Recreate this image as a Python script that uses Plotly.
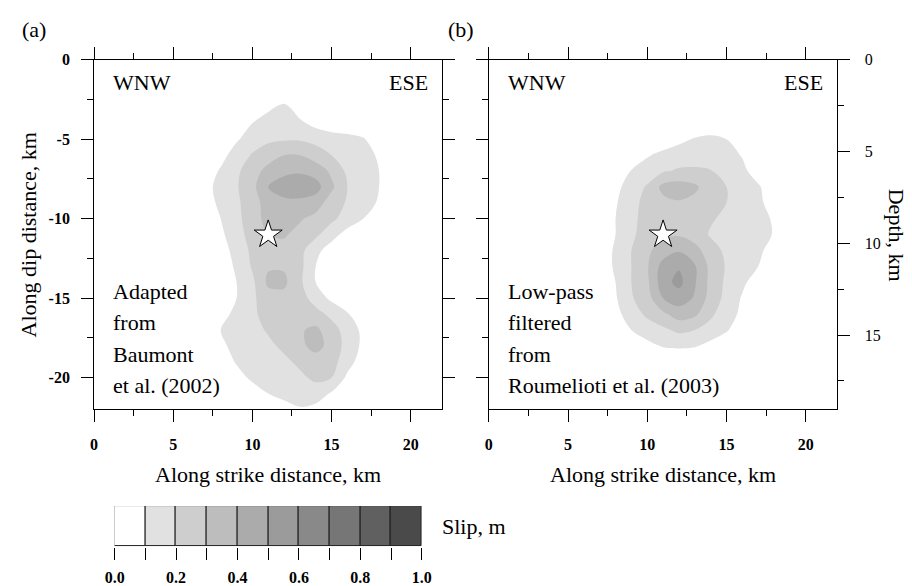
import plotly.graph_objects as go

# ---------------- data ----------------
STRIKE_KM = [6, 7, 8, 9, 10, 11, 12, 13, 14, 15, 16, 17, 18, 19]

DIP_A_KM = [-2, -3, -4, -5, -6, -7, -8, -9, -10, -11, -12, -13, -14, -15,
            -16, -17, -18, -19, -20, -21, -22]
SLIP_A = [
    [0, 0, 0, 0, 0, 0, 0, 0, 0, 0, 0, 0, 0, 0],
    [0, 0, 0, 0, 0.02, 0.08, 0.13, 0.05, 0, 0, 0, 0, 0, 0],
    [0, 0, 0.01, 0.04, 0.10, 0.15, 0.17, 0.12, 0.07, 0.05, 0.04, 0.02, 0, 0],
    [0, 0, 0.03, 0.09, 0.14, 0.18, 0.19, 0.19, 0.17, 0.14, 0.13, 0.11, 0.04, 0],
    [0, 0.02, 0.07, 0.14, 0.21, 0.26, 0.30, 0.30, 0.25, 0.20, 0.16, 0.13, 0.09, 0.02],
    [0, 0.05, 0.11, 0.18, 0.26, 0.33, 0.38, 0.39, 0.36, 0.28, 0.18, 0.14, 0.10, 0.03],
    [0, 0.07, 0.13, 0.19, 0.27, 0.40, 0.44, 0.45, 0.44, 0.32, 0.20, 0.15, 0.10, 0.03],
    [0, 0.06, 0.12, 0.18, 0.26, 0.34, 0.38, 0.38, 0.35, 0.25, 0.19, 0.14, 0.09, 0.02],
    [0, 0.05, 0.10, 0.17, 0.26, 0.33, 0.33, 0.31, 0.27, 0.22, 0.16, 0.10, 0.04, 0],
    [0, 0.02, 0.08, 0.16, 0.24, 0.30, 0.31, 0.27, 0.22, 0.14, 0.06, 0.02, 0, 0],
    [0, 0, 0.05, 0.14, 0.22, 0.27, 0.27, 0.23, 0.13, 0.05, 0.01, 0, 0, 0],
    [0, 0, 0.03, 0.12, 0.21, 0.29, 0.29, 0.23, 0.10, 0.03, 0, 0, 0, 0],
    [0, 0, 0.02, 0.10, 0.18, 0.32, 0.32, 0.22, 0.10, 0.04, 0, 0, 0, 0],
    [0, 0, 0.02, 0.10, 0.18, 0.26, 0.27, 0.25, 0.15, 0.08, 0.02, 0, 0, 0],
    [0, 0.01, 0.06, 0.13, 0.18, 0.24, 0.26, 0.27, 0.24, 0.17, 0.11, 0.03, 0, 0],
    [0, 0.04, 0.10, 0.14, 0.17, 0.21, 0.25, 0.29, 0.32, 0.25, 0.15, 0.08, 0, 0],
    [0, 0.03, 0.08, 0.13, 0.15, 0.18, 0.22, 0.28, 0.33, 0.27, 0.16, 0.08, 0, 0],
    [0, 0, 0.04, 0.11, 0.14, 0.16, 0.18, 0.22, 0.26, 0.24, 0.14, 0.05, 0, 0],
    [0, 0, 0.01, 0.06, 0.12, 0.14, 0.16, 0.18, 0.22, 0.20, 0.08, 0.02, 0, 0],
    [0, 0, 0, 0.01, 0.05, 0.10, 0.13, 0.15, 0.15, 0.09, 0.03, 0, 0, 0],
    [0, 0, 0, 0, 0, 0, 0.06, 0.09, 0.07, 0, 0, 0, 0, 0],
]

DIP_B_KM = [-4, -5, -6, -7, -8, -9, -10, -11, -12, -13, -14, -15, -16, -17,
            -18, -19]
SLIP_B = [
    [0, 0, 0, 0, 0, 0, 0, 0, 0.04, 0, 0, 0, 0, 0],
    [0, 0, 0, 0, 0.01, 0.03, 0.07, 0.11, 0.12, 0.10, 0.04, 0, 0, 0],
    [0, 0, 0, 0.02, 0.09, 0.13, 0.16, 0.17, 0.16, 0.13, 0.095, 0.03, 0, 0],
    [0, 0, 0.03, 0.105, 0.15, 0.19, 0.21, 0.21, 0.205, 0.16, 0.12, 0.06, 0.01, 0],
    [0, 0, 0.07, 0.15, 0.21, 0.33, 0.35, 0.32, 0.24, 0.20, 0.15, 0.11, 0.05, 0],
    [0, 0.02, 0.09, 0.17, 0.23, 0.27, 0.29, 0.27, 0.23, 0.20, 0.16, 0.12, 0.06, 0],
    [0, 0.04, 0.10, 0.18, 0.23, 0.25, 0.26, 0.24, 0.21, 0.18, 0.16, 0.13, 0.09, 0.02],
    [0, 0.05, 0.10, 0.18, 0.25, 0.28, 0.29, 0.25, 0.19, 0.17, 0.15, 0.13, 0.095, 0.02],
    [0, 0.06, 0.11, 0.20, 0.28, 0.35, 0.39, 0.34, 0.24, 0.18, 0.15, 0.12, 0.06, 0],
    [0, 0.06, 0.11, 0.20, 0.29, 0.44, 0.49, 0.41, 0.27, 0.19, 0.14, 0.10, 0.04, 0],
    [0, 0.04, 0.10, 0.20, 0.28, 0.46, 0.53, 0.41, 0.27, 0.18, 0.12, 0.05, 0, 0],
    [0, 0.03, 0.09, 0.19, 0.26, 0.40, 0.45, 0.39, 0.26, 0.17, 0.09, 0.03, 0, 0],
    [0, 0, 0.07, 0.15, 0.22, 0.28, 0.35, 0.32, 0.22, 0.14, 0.08, 0.02, 0, 0],
    [0, 0, 0.04, 0.10, 0.15, 0.18, 0.22, 0.20, 0.16, 0.11, 0.04, 0, 0, 0],
    [0, 0, 0, 0.03, 0.07, 0.11, 0.12, 0.11, 0.07, 0.03, 0, 0, 0, 0],
    [0, 0, 0, 0, 0, 0, 0, 0, 0, 0, 0, 0, 0, 0],
]

HYPO_A = [11.0, -11.0]   # along strike, along dip (km)
HYPO_B = [11.0, -11.0]

SLIP_LEVELS = [0.0, 0.1, 0.2, 0.3, 0.4, 0.5, 0.6, 0.7, 0.8, 0.9, 1.0]
SLIP_TICKTEXT = ["0.0", "", "0.2", "", "0.4", "", "0.6", "", "0.8", "", "1.0"]

X_TICKS = [0, 5, 10, 15, 20]
X_MINOR = [2.5, 7.5, 12.5, 17.5]
Y_TICKS = [0, -5, -10, -15, -20]
Y_TICKTEXT = ["0", "-5", "-10", "-15", "-20"]
Y_MINOR = [-2.5, -7.5, -12.5, -17.5]
DEPTH_TICKS = [0, 5, 10, 15]
DEPTH_MINOR = [2.5, 7.5, 12.5, 17.5]
DEPTH_PER_DIP = 0.866  # depth axis scale relative to along-dip distance

# ---------------- style ----------------
W, H = 912, 586
FONT = "Liberation Serif"
BAND_COLORS = ["#ffffff", "#e1e1e1", "#cecece", "#bdbdbd", "#ababab",
               "#9b9b9b", "#898989", "#767676", "#606060", "#4a4a4a"]


def px(x):
    return x / W


def py(y):
    return 1 - y / H


colorscale = [[i / 10, c] for i, c in enumerate(BAND_COLORS)] + [[1.0, BAND_COLORS[-1]]]
band_mid = [(a + b) / 2 for a, b in zip(SLIP_LEVELS[:-1], SLIP_LEVELS[1:])]

fig = go.Figure()


def add_panel(x, y, z, hypo, xa, ya):
    fig.add_trace(go.Contour(
        x=x, y=y, z=z, colorscale=colorscale, autocontour=False,
        contours=dict(start=SLIP_LEVELS[1], end=SLIP_LEVELS[-1],
                      size=SLIP_LEVELS[1] - SLIP_LEVELS[0],
                      coloring="fill", showlines=False),
        line=dict(width=0, smoothing=1.0), showscale=False,
        hoverinfo="skip", xaxis=xa, yaxis=ya))
    fig.add_trace(go.Scatter(
        x=[hypo[0]], y=[hypo[1]], mode="markers",
        marker=dict(symbol="star", size=21, color="white",
                    line=dict(color="black", width=1)),
        xaxis=xa, yaxis=ya, hoverinfo="skip"))


add_panel(STRIKE_KM, DIP_A_KM, SLIP_A, HYPO_A, "x", "y")
add_panel(STRIKE_KM, DIP_B_KM, SLIP_B, HYPO_B, "x2", "y2")

# invisible trace so that the depth axis is drawn
fig.add_trace(go.Scatter(x=[None], y=[None], mode="markers", xaxis="x2",
                         yaxis="y3", hoverinfo="skip"))

# colour key
fig.add_trace(go.Bar(
    x=band_mid, y=[1] * len(band_mid), width=SLIP_LEVELS[1] - SLIP_LEVELS[0],
    marker=dict(color=BAND_COLORS, line=dict(color="#1a1a1a", width=1)),
    xaxis="x4", yaxis="y4", hoverinfo="skip", cliponaxis=False))

tickfont = dict(family=FONT, size=16, color="black", weight="bold")


def base_axis(**kw):
    d = dict(showline=True, linecolor="black", linewidth=1, ticks="outside",
             ticklen=12, tickwidth=1, tickcolor="black", showgrid=False,
             zeroline=False, tickfont=tickfont)
    d.update(kw)
    return d


def minor(vals):
    return dict(tickmode="array", tickvals=vals, ticks="outside", ticklen=6,
                tickwidth=1, tickcolor="black", showgrid=False)


xa_dom = [px(86), px(442)]
xb_dom = [px(489.5), px(846)]
y_dom = [py(407), py(52.5)]

fig.update_layout(
    width=W, height=H, autosize=False,
    margin=dict(l=0, r=0, t=0, b=0),
    paper_bgcolor="white", plot_bgcolor="white",
    showlegend=False, bargap=0,
    font=dict(family=FONT, color="black", size=22),
    xaxis=base_axis(domain=xa_dom, range=[0, 22], anchor="y",
                    tickmode="array", tickvals=X_TICKS, mirror="ticks",
                    minor=minor(X_MINOR), ticklabelstandoff=8),
    yaxis=base_axis(domain=y_dom, range=[-22, 0], anchor="x",
                    tickmode="array", tickvals=Y_TICKS, ticktext=Y_TICKTEXT,
                    mirror="ticks", minor=minor(Y_MINOR), ticklabelstandoff=8),
    xaxis2=base_axis(domain=xb_dom, range=[0, 22], anchor="y2",
                     tickmode="array", tickvals=X_TICKS, mirror="ticks",
                     minor=minor(X_MINOR), ticklabelstandoff=8),
    yaxis2=base_axis(domain=y_dom, range=[-22, 0], anchor="x2",
                     tickmode="array", tickvals=Y_TICKS, showticklabels=False,
                     mirror=False, minor=minor(Y_MINOR)),
    yaxis3=base_axis(overlaying="y2", side="right", anchor="x2",
                     range=[22 * DEPTH_PER_DIP, 0], tickmode="array",
                     tickvals=DEPTH_TICKS, minor=minor(DEPTH_MINOR),
                     ticklabelstandoff=11,
                     tickfont=dict(family=FONT, size=16, color="black")),
    xaxis4=dict(domain=[px(107), px(421)], range=[0, 1], anchor="y4",
                tickmode="array", tickvals=SLIP_LEVELS, ticktext=SLIP_TICKTEXT,
                ticks="outside", ticklen=12, tickwidth=1, tickcolor="black",
                showline=False, showgrid=False, zeroline=False,
                tickfont=tickfont, ticklabelstandoff=4),
    yaxis4=dict(domain=[py(546), py(505)], range=[0, 1], anchor="x4",
                visible=False),
)

ann = []


def text(s, x, y, xanchor="left", angle=0):
    ann.append(dict(text=s, x=px(x), y=py(y), xref="paper", yref="paper",
                    xanchor=xanchor, yanchor="middle", showarrow=False,
                    textangle=angle, font=dict(family=FONT, size=22, color="black")))


text("(a)", 25, 22, "center")
text("(b)", 461, 22, "center")
text("WNW", 103, 76)
text("ESE", 429, 76, "right")
text("WNW", 507, 76)
text("ESE", 833, 76, "right")
for s, yy in zip(["Adapted", "from", "Baumont", "et al. (2002)"], [287, 319, 351, 383]):
    text(s, 103, yy)
for s, yy in zip(["Low-pass", "filtered", "from", "Roumelioti et al. (2003)"], [287, 319, 351, 383]):
    text(s, 507, yy)
text("Along strike distance, km", 264, 473, "center")
text("Along strike distance, km", 668, 473, "center")
text("Along dip distance, km", 19, 230, "center", -90)
text("Depth, km", 906, 230, "center", 90)
text("Slip, m", 440, 526)
fig.update_layout(annotations=ann)

fig.write_html("out.html")
